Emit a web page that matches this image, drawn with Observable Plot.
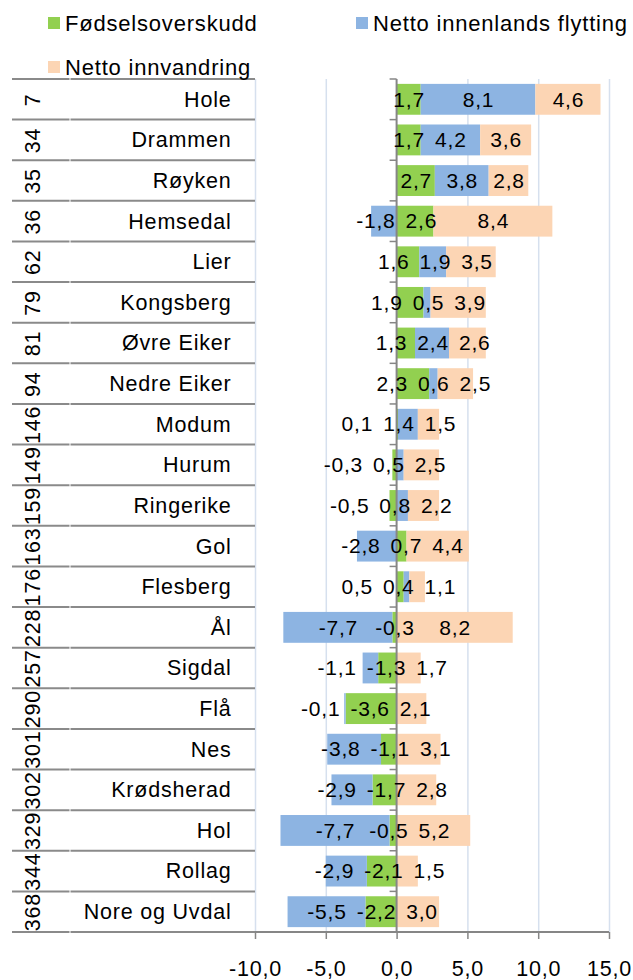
<!DOCTYPE html>
<html><head><meta charset="utf-8">
<script src="https://cdn.jsdelivr.net/npm/d3@7"></script>
<script src="https://cdn.jsdelivr.net/npm/@observablehq/plot@0.6"></script>
<style>
body{margin:0;background:#fff;}
#wrap{position:relative;width:633px;}
#legend{position:relative;height:76px;font-family:"Liberation Sans",Arial,sans-serif;font-size:22px;letter-spacing:0.8px;color:#000;z-index:1;}
.item{position:absolute;white-space:nowrap;line-height:22px;}
.sw{position:absolute;width:12px;height:12px;}
#chart svg{display:block;}
</style></head><body>
<div id="wrap">
<div id="legend"></div>
<div id="chart"></div>
</div>
<script>
// ---- data ----
const names = ["Hole","Drammen","Røyken","Hemsedal","Lier","Kongsberg","Øvre Eiker","Nedre Eiker","Modum","Hurum","Ringerike","Gol","Flesberg","Ål","Sigdal","Flå","Nes","Krødsherad","Hol","Rollag","Nore og Uvdal"];
const ranks = [7,34,35,36,62,79,81,94,146,149,159,163,176,228,257,290,301,302,329,344,368];
const fodselsoverskudd = [1.7,1.7,2.7,2.6,1.6,1.9,1.3,2.3,0.1,-0.3,-0.5,0.7,0.5,-0.3,-1.3,-3.6,-1.1,-1.7,-0.5,-2.1,-2.2];
const innenlandsFlytting = [8.1,4.2,3.8,-1.8,1.9,0.5,2.4,0.6,1.4,0.5,0.8,-2.8,0.4,-7.7,-1.1,-0.1,-3.8,-2.9,-7.7,-2.9,-5.5];
const innvandring = [4.6,3.6,2.8,8.4,3.5,3.9,2.6,2.5,1.5,2.5,2.2,4.4,1.1,8.2,1.7,2.1,3.1,2.8,5.2,1.5,3.0];
const seriesNames = ["Fødselsoverskudd","Netto innenlands flytting","Netto innvandring"];
const seriesColors = ["#92D050","#8DB4E2","#FCD5B4"];
const xTicks = [-10,-5,0,5,10,15];
const xDomain = [-10,15];

const seriesValues = [fodselsoverskudd, innenlandsFlytting, innvandring];
const fmt = v => v.toFixed(1).replace(".", ",");

// ---- legend ----
const legendLayout = [{x:48,y:12.5},{x:356,y:12.5},{x:48,y:56.5}];
const legend = document.getElementById("legend");
seriesNames.forEach((s,i)=>{
  const L = legendLayout[i];
  const sw = document.createElement("div");
  sw.className="sw"; sw.style.left=L.x+"px"; sw.style.top=(L.y+4.5)+"px"; sw.style.background=seriesColors[i];
  legend.appendChild(sw);
  const t = document.createElement("div");
  t.className="item"; t.style.left=(L.x+17)+"px"; t.style.top=L.y+"px"; t.textContent=s;
  legend.appendChild(t);
});

// ---- layout ----
const W = 633, H = 904;
const mL = 255, mR = 24, mT = 3, mB = 48;
const FONT = '"Liberation Sans", Arial, sans-serif';
const LABEL_SIZE = 21, LS = 0.8;

const rows = [];
names.forEach((n,i)=>seriesValues.forEach((vals,s)=>rows.push({name:n, series:seriesNames[s], value:vals[i]})));

// label placement: centred in segment, pushed apart where they would overlap
const ctx = document.createElement("canvas").getContext("2d");
ctx.font = `${LABEL_SIZE}px ${FONT}`;
const measure = t => ctx.measureText(t).width + t.length*LS;
const k = (W - mL - mR)/(xDomain[1]-xDomain[0]);
const GAP = 10;
const labels = [];
names.forEach((n,i)=>{
  let pos=0, neg=0; const items=[];
  seriesValues.forEach(vals=>{
    const v = vals[i]; let a,b;
    if (v>=0){a=pos;b=pos+v;pos=b;} else {a=neg;b=neg+v;neg=b;}
    const t = fmt(v);
    items.push({text:t, p:(a+b)/2*k, m:Math.max(Math.abs(v)*k,1), w:measure(t)});
  });
  items.sort((a,b)=>a.p-b.p);
  for (let it=0; it<300; it++){
    let moved=false;
    for (let j=0;j<items.length-1;j++){
      const A=items[j], B=items[j+1];
      const need=(A.w+B.w)/2+GAP, d=B.p-A.p;
      if (d<need-0.01){const o=need-d; A.p-=o*B.m/(A.m+B.m); B.p+=o*A.m/(A.m+B.m); moved=true;}
    }
    if(!moved) break;
  }
  items.forEach(it=>labels.push({name:n, text:it.text, x:it.p/k}));
});

const AXIS = "#868686";
const frameLines = (index, scales, values, dims) => {
  const top = dims.marginTop, bottom = dims.height - dims.marginBottom;
  const left = dims.marginLeft, right = dims.width - dims.marginRight;
  const step = (bottom-top)/names.length;
  const x0 = scales.x(0);
  const g = d3.create("svg:g").attr("fill","none");
  const bounds = d3.range(names.length+1).map(i=>top+i*step);
  for (const b of bounds){
    g.append("line").attr("x1",12).attr("x2",69.5).attr("y1",b).attr("y2",b).attr("stroke","#8a8a8a").attr("stroke-width",2);
    g.append("line").attr("x1",70.5).attr("x2",left).attr("y1",b).attr("y2",b).attr("stroke","#8a8a8a").attr("stroke-width",2);
    g.append("line").attr("x1",x0-7).attr("x2",x0).attr("y1",b).attr("y2",b).attr("stroke",AXIS).attr("stroke-width",1.5);
  }
  g.append("line").attr("x1",x0).attr("x2",x0).attr("y1",top).attr("y2",bottom).attr("stroke",AXIS).attr("stroke-width",2);
  g.append("line").attr("x1",left).attr("x2",right).attr("y1",bottom).attr("y2",bottom).attr("stroke",AXIS).attr("stroke-width",2);
  return g.node();
};

const chart = Plot.plot({
  width: W, height: H,
  marginLeft: mL, marginRight: mR, marginTop: mT, marginBottom: mB,
  style: {fontFamily: FONT, fontSize: "21px", background: "transparent", overflow: "visible", letterSpacing: LS+"px", color: "#000"},
  x: {domain: xDomain, axis: null},
  y: {domain: names, paddingInner: 0.24, paddingOuter: 0.12, round: false, axis: null},
  color: {domain: seriesNames, range: seriesColors},
  marks: [
    Plot.gridX(xTicks.filter(t=>t!==0), {stroke: "#D6E0EE", strokeOpacity: 1, strokeWidth: 1.5}),
    Plot.barX(rows, Plot.stackX({x: "value", y: "name", fill: "series", z: "series"})),
    frameLines,
    Plot.text(labels, {x: "x", y: "name", text: "text", fill: "#000", fontSize: LABEL_SIZE}),
    Plot.text(names, {y: d=>d, text: d=>d, frameAnchor: "left", dx: -24, textAnchor: "end", fill: "#000", fontSize: 21.5}),
    Plot.text(names, {y: d=>d, text: (d,i)=>String(ranks[i]), frameAnchor: "left", dx: -222, rotate: -90, textAnchor: "middle", lineAnchor: "middle", fill: "#000", fontSize: 21.5}),
    Plot.axisX(xTicks, {tickSize: 7, tickPadding: 21, tickFormat: fmt, stroke: AXIS, strokeWidth: 1.5, fill: "#000", fontSize: 21.5})
  ]
});
document.getElementById("chart").appendChild(chart);
</script>
</body></html>
